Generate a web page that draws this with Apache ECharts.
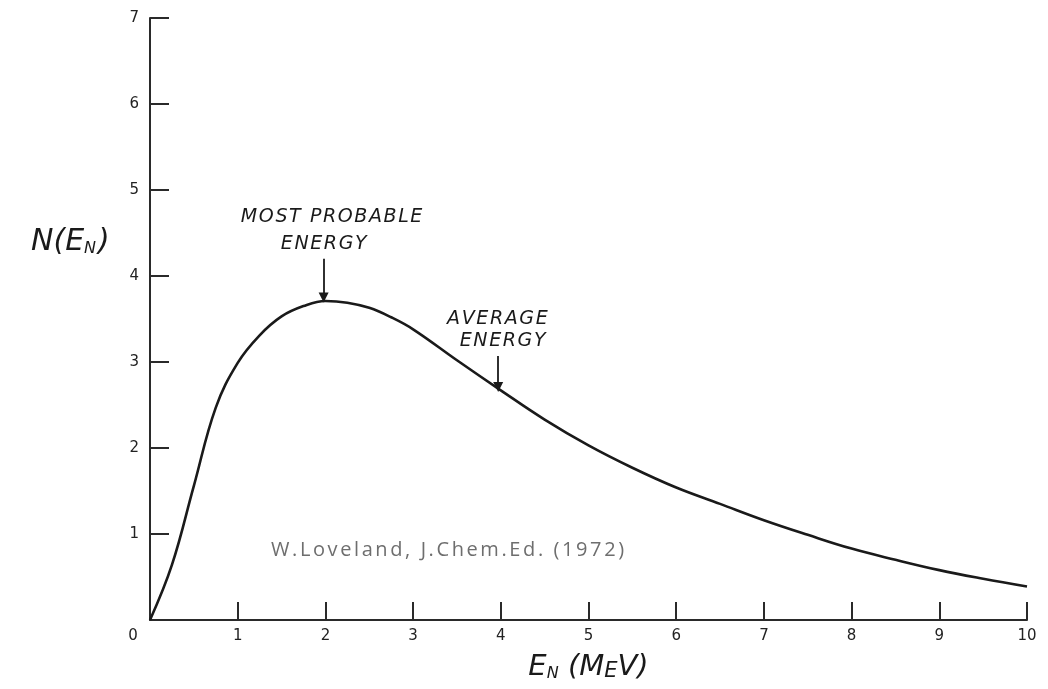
<!DOCTYPE html>
<html>
<head>
<meta charset="utf-8">
<script src="https://cdn.jsdelivr.net/npm/echarts@6/dist/echarts.min.js"></script>
<style>
html,body{margin:0;padding:0;background:#fff;}
#chart{width:1048px;height:689px;}
</style>
</head>
<body>
<div id="chart"></div>
<script>
// Neutron energy spectrum values
var energyMeV = [0, 0.25, 0.5, 0.75, 1.0, 1.25, 1.5, 1.75, 2.0, 2.25, 2.5, 2.75, 3.0, 3.5, 4.0, 4.5, 5.0, 5.5, 6.0, 6.5, 7.0, 7.5, 8.0, 8.5, 9.0, 9.5, 10.0];
var intensity = [0, 0.64, 1.56, 2.47, 2.99, 3.31, 3.53, 3.65, 3.71, 3.69, 3.63, 3.52, 3.38, 3.02, 2.67, 2.33, 2.03, 1.77, 1.54, 1.35, 1.16, 0.99, 0.83, 0.70, 0.58, 0.48, 0.39];

var xTicks = [0, 1, 2, 3, 4, 5, 6, 7, 8, 9, 10];
var yTicks = [0, 1, 2, 3, 4, 5, 6, 7];

// Annotation arrows: [x, yStart, yEnd]
var arrowMostProbable = [1.98, 4.20, 3.75];
var arrowAverage = [3.97, 3.07, 2.71];
// Annotation texts: [text, x, y]
var annotationTexts = [
  ['MOST PROBABLE', 2.08, 4.69],
  ['ENERGY', 1.99, 4.37],
  ['AVERAGE', 3.97, 3.50],
  ['ENERGY', 4.03, 3.24]
];

var citation = 'W.Loveland, J.Chem.Ed. (1972)';

var handFont = '"DejaVu Sans", sans-serif';
var ink = '#1a1a1a';

// letter-spaced rich text: each character becomes a token of style `st`
function spaced(text, st) {
  return text.split('').map(function (c) { return '{' + st + '|' + c + '}'; }).join('');
}

var chart = echarts.init(document.getElementById('chart'), null, {renderer: 'canvas'});

var series = [{
  type: 'line',
  data: energyMeV.map(function (x, i) { return [x, intensity[i]]; }),
  smooth: 0.4,
  showSymbol: false,
  symbol: 'none',
  lineStyle: {color: ink, width: 2.6},
  silent: true,
  z: 3,
  markLine: {
    silent: true,
    symbol: ['none', 'triangle'],
    symbolSize: [10, 10],
    symbolRotate: 180,
    lineStyle: {color: ink, width: 1.8, type: 'solid'},
    label: {show: false},
    data: [
      [{coord: [arrowMostProbable[0], arrowMostProbable[1]]}, {coord: [arrowMostProbable[0], arrowMostProbable[2]]}],
      [{coord: [arrowAverage[0], arrowAverage[1]]}, {coord: [arrowAverage[0], arrowAverage[2]]}]
    ]
  },
  markPoint: {
    silent: true,
    symbol: 'circle',
    symbolSize: 0,
    label: {
      show: true,
      position: 'inside',
      formatter: function (p) { return spaced(p.name, 'a'); },
      rich: {
        a: {color: ink, fontFamily: handFont, fontStyle: 'italic', fontSize: 19, padding: [0, 1.6, 0, 0]}
      }
    },
    data: annotationTexts.map(function (a) {
      return {name: a[0], coord: [a[1], a[2]]};
    })
  }
}];

var option = {
  backgroundColor: '#ffffff',
  animation: false,
  grid: {left: 150, right: 21, top: 18, bottom: 69, containLabel: false},
  title: [
    {
      text: '{m|N(E}{s|N}{m|)}',
      left: 26,
      top: 222,
      textStyle: {
        fontWeight: 'normal',
        rich: {
          m: {fontFamily: handFont, fontStyle: 'italic', fontWeight: 'normal', fontSize: 30, color: ink, verticalAlign: 'bottom'},
          s: {fontFamily: handFont, fontStyle: 'italic', fontWeight: 'normal', fontSize: 16, color: ink, verticalAlign: 'bottom', padding: [0, 2, 0, 0]}
        }
      }
    },
    {
      text: spaced(citation, 'c'),
      left: 266,
      top: 535,
      textStyle: {
        fontWeight: 'normal',
        rich: {
          c: {fontFamily: '"Open Sans", sans-serif', fontWeight: 'normal', fontSize: 20, color: '#6e6e6e', padding: [0, 2.6, 0, 0]}
        }
      }
    }
  ],
  xAxis: {
    type: 'value',
    min: 0,
    max: 10,
    interval: 1,
    name: '{m|E}{s|N}{m| (M}{k|E}{m|V)}',
    nameLocation: 'middle',
    nameGap: 33,
    nameTextStyle: {
      rich: {
        m: {fontFamily: handFont, fontStyle: 'italic', fontSize: 29, color: ink, verticalAlign: 'bottom'},
        s: {fontFamily: handFont, fontStyle: 'italic', fontSize: 16, color: ink, verticalAlign: 'bottom'},
        k: {fontFamily: handFont, fontStyle: 'italic', fontSize: 21, color: ink, verticalAlign: 'bottom'}
      }
    },
    axisLine: {show: true, onZero: false, lineStyle: {color: '#2a2a2a', width: 2}},
    axisTick: {show: true, inside: true, length: 18, lineStyle: {color: '#2a2a2a', width: 2}},
    splitLine: {show: false},
    axisLabel: {
      margin: 9,
      color: '#222',
      fontFamily: handFont,
      fontSize: 15,
      formatter: function (v) { return v === 0 ? '{z|0}' : String(xTicks[v]); },
      rich: {z: {fontFamily: handFont, fontSize: 15, color: '#222', padding: [0, 34, 0, 0]}}
    }
  },
  yAxis: {
    type: 'value',
    min: 0,
    max: 7,
    interval: 1,
    axisLine: {show: true, onZero: false, lineStyle: {color: '#2a2a2a', width: 2}},
    axisTick: {show: true, inside: true, length: 19, lineStyle: {color: '#2a2a2a', width: 2}},
    splitLine: {show: false},
    axisLabel: {
      margin: 11,
      color: '#222',
      fontFamily: handFont,
      fontSize: 15,
      formatter: function (v) { return v === 0 ? '' : String(yTicks[v]); }
    }
  },
  series: series
};

chart.setOption(option);
</script>
</body>
</html>
